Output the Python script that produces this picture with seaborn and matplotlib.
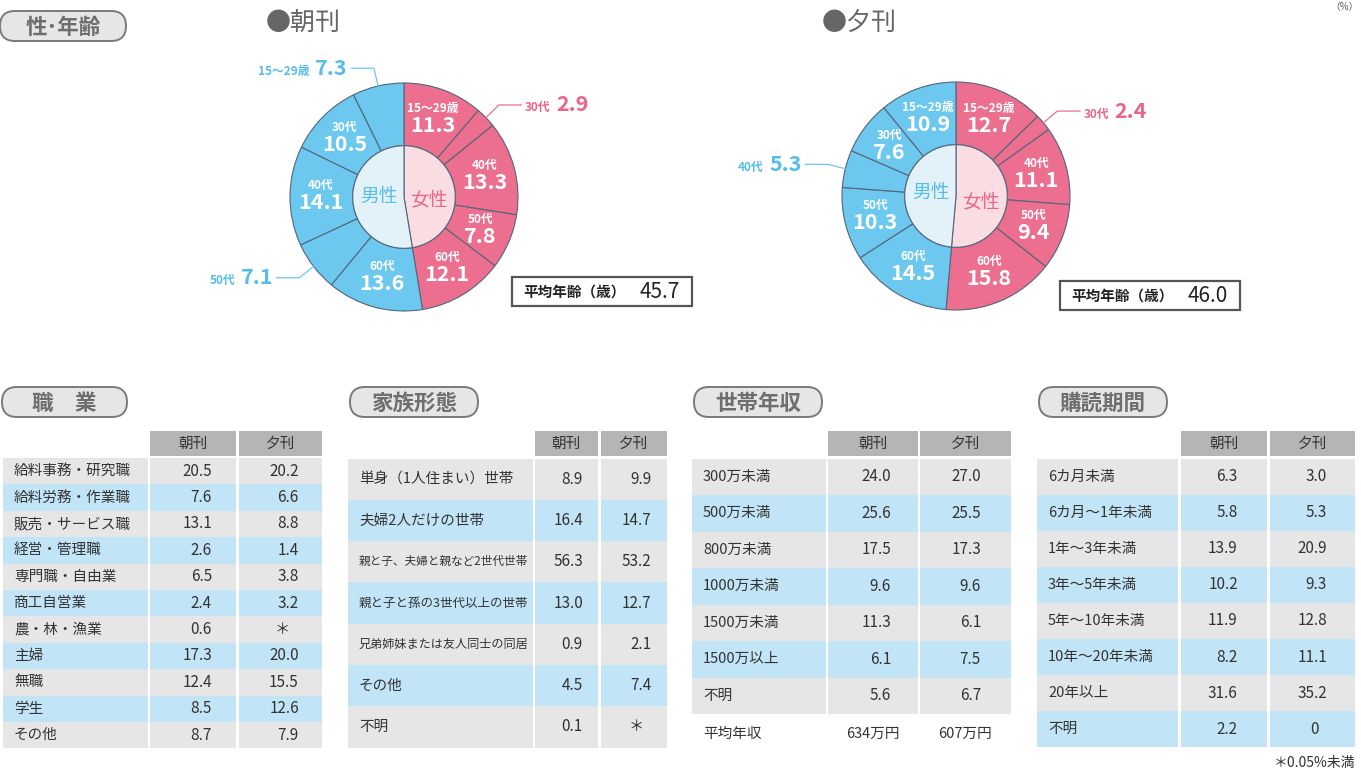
import numpy as np
import matplotlib
matplotlib.use("Agg")
import matplotlib.pyplot as plt
import seaborn as sns
from matplotlib.patches import FancyBboxPatch, Rectangle
from matplotlib.offsetbox import TextArea, HPacker, VPacker, AnnotationBbox

sns.set_theme(style="white")
plt.rcParams['font.family'] = ['Noto Sans CJK JP', 'DejaVu Sans']

# ---- data ----
age_groups = ["15～29歳", "30代", "40代", "50代", "60代"]
morning_female = [11.3, 2.9, 13.3, 7.8, 12.1]
morning_male = [7.3, 10.5, 14.1, 7.1, 13.6]
evening_female = [12.7, 2.4, 11.1, 9.4, 15.8]
evening_male = [10.9, 7.6, 5.3, 10.3, 14.5]
morning_avg_age = 45.7
evening_avg_age = 46.0

job_labels = ["給料事務・研究職", "給料労務・作業職", "販売・サービス職", "経営・管理職",
              "専門職・自由業", "商工自営業", "農・林・漁業", "主婦", "無職", "学生", "その他"]
job_morning = [20.5, 7.6, 13.1, 2.6, 6.5, 2.4, 0.6, 17.3, 12.4, 8.5, 8.7]
job_evening = [20.2, 6.6, 8.8, 1.4, 3.8, 3.2, None, 20.0, 15.5, 12.6, 7.9]

family_labels = ["単身（1人住まい）世帯", "夫婦2人だけの世帯", "親と子、夫婦と親など2世代世帯",
                 "親と子と孫の3世代以上の世帯", "兄弟姉妹または友人同士の同居", "その他", "不明"]
family_morning = [8.9, 16.4, 56.3, 13.0, 0.9, 4.5, 0.1]
family_evening = [9.9, 14.7, 53.2, 12.7, 2.1, 7.4, None]

income_labels = ["300万未満", "500万未満", "800万未満", "1000万未満", "1500万未満", "1500万以上", "不明"]
income_morning = [24.0, 25.6, 17.5, 9.6, 11.3, 6.1, 5.6]
income_evening = [27.0, 25.5, 17.3, 9.6, 6.1, 7.5, 6.7]
income_avg = [634, 607]

period_labels = ["6カ月未満", "6カ月～1年未満", "1年～3年未満", "3年～5年未満",
                 "5年～10年未満", "10年～20年未満", "20年以上", "不明"]
period_morning = [6.3, 5.8, 13.9, 10.2, 11.9, 8.2, 31.6, 2.2]
period_evening = [3.0, 5.3, 20.9, 9.3, 12.8, 11.1, 35.2, 0]

# ---- style ----
PINK = '#ec6f8f'
BLUE = '#6cc8ef'
PINK_TXT = '#e9658a'
BLUE_TXT = '#56bde9'
PINK_IN = '#fadce3'
BLUE_IN = '#e3f2f9'
EDGE = '#55657a'
GRAY_ROW = '#e6e6e6'
BLUE_ROW = '#c2e4f7'
HEAD = '#b5b5b5'
TXT = '#333333'

W, H = 1361, 780
fig = plt.figure(figsize=(W / 100, H / 100), dpi=100)
fig.patch.set_facecolor('white')
ax0 = fig.add_axes([0, 0, 1, 1])
ax0.set_xlim(0, W)
ax0.set_ylim(H, 0)
ax0.axis('off')
renderer = fig.canvas.get_renderer()


def pill(x0, x1, y0, y1, text):
    p = FancyBboxPatch((x0, y0), x1 - x0, y1 - y0,
                       boxstyle="round,pad=0,rounding_size=15",
                       fc='#e6e6e6', ec='#7a7a7a', lw=1.4)
    ax0.add_patch(p)
    ax0.text((x0 + x1) / 2, (y0 + y1) / 2 + 1, text, ha='center', va='center',
             fontsize=15.5, fontweight='bold', color='#6e6e6e')


def donut(cx, cy, female, male, title, title_x, avg, box):
    R = 114
    k = 2.6
    ax = fig.add_axes([(cx - k * R) / W, (H - cy - k * R) / H, 2 * k * R / W, 2 * k * R / H])
    vals = female + male[::-1]
    cols = [PINK] * len(female) + [BLUE] * len(male)
    tcols = [PINK_TXT] * len(female) + [BLUE_TXT] * len(male)
    ages = age_groups + age_groups[::-1]
    ax.pie(vals, radius=1, startangle=90, counterclock=False, colors=cols,
           wedgeprops=dict(width=0.55, edgecolor=EDGE, linewidth=0.8))
    ax.pie([sum(female), sum(male)], radius=0.45, startangle=90, counterclock=False,
           colors=[PINK_IN, BLUE_IN], wedgeprops=dict(edgecolor=EDGE, linewidth=0.8))
    ax.set_xlim(-k, k)
    ax.set_ylim(-k, k)
    ax.set_aspect('equal')
    ax.axis('off')

    total = sum(vals)
    cum = 0
    for v, age, c, tc in zip(vals, ages, cols, tcols):
        mid = np.deg2rad(360 * (cum + v / 2) / total)
        cum += v
        ux, uy = np.sin(mid), np.cos(mid)
        if v >= 7.5:
            vb = VPacker(children=[
                TextArea(age, textprops=dict(color='white', fontsize=8.5, fontweight='bold')),
                TextArea(f"{v:.1f}", textprops=dict(color='white', fontsize=15.5, fontweight='bold'))],
                align='center', pad=0, sep=0)
            ax.add_artist(AnnotationBbox(vb, (0.73 * ux, 0.73 * uy), frameon=False,
                                         box_alignment=(0.5, 0.5), pad=0))
        else:
            ex, ey = 1.16 * ux, 1.16 * uy
            side = 1 if ux > 0 else -1
            end = ex + side * 0.2
            ax.plot([ux, ex, end], [uy, ey, ey], color=c, lw=0.9, clip_on=False)
            hb = HPacker(children=[
                TextArea(age, textprops=dict(color=tc, fontsize=8.5, fontweight='bold')),
                TextArea(f"{v:.1f}", textprops=dict(color=tc, fontsize=15.5, fontweight='bold'))],
                align='baseline', pad=0, sep=4)
            ax.add_artist(AnnotationBbox(hb, (end + side * 0.03, ey), frameon=False,
                                         box_alignment=(0 if side > 0 else 1, 0.5), pad=0))

    fm = np.deg2rad(180 * sum(female) / total)
    mm = np.deg2rad(360 * (sum(female) + sum(male) / 2) / total)
    ax.text(0.22 * np.sin(mm), 0.22 * np.cos(mm) + 0.02, "男性", ha='center', va='center',
            fontsize=13.5, color=BLUE_TXT)
    ax.text(0.22 * np.sin(fm), 0.22 * np.cos(fm) - 0.04, "女性", ha='center', va='center',
            fontsize=13.5, color=PINK_TXT)

    ax0.text(title_x, 23, title, ha='left', va='center', fontsize=18, color='#666666')
    x0, x1, y0, y1 = box
    ax0.add_patch(Rectangle((x0, y0), x1 - x0, y1 - y0, fc='white', ec='#555555', lw=1.6))
    ax0.text(x0 + 11, (y0 + y1) / 2, "平均年齢（歳）", ha='left', va='center',
             fontsize=10.5, fontweight='bold', color='#222222')
    ax0.text(x1 - 12, (y0 + y1) / 2, f"{avg:.1f}", ha='right', va='center',
             fontsize=15, color='#222222')


def fmt(v):
    if v is None:
        return "＊", False
    if v == 0:
        return "0", False
    return f"{v:.1f}", True


def table(cols, top, row_h, labels, morning, evening, fracs, label_maxw):
    # header
    for (c0, c1), name in zip(cols[1:], ["朝刊", "夕刊"]):
        ax0.barh([443.5], [c1 - c0], left=[c0], height=25, color=HEAD, linewidth=0)
        ax0.text((c0 + c1) / 2, 444, name, ha='center', va='center', fontsize=10.5, color=TXT)
    n = len(labels)
    centers = [top + row_h * (i + 0.5) for i in range(n)]
    colors = [GRAY_ROW if i % 2 == 0 else BLUE_ROW for i in range(n)]
    for c0, c1 in cols:
        ax0.barh(centers, [c1 - c0] * n, left=[c0] * n, height=row_h, color=colors, linewidth=0)
    for y, lab, m, e in zip(centers, labels, morning, evening):
        t = ax0.text(cols[0][0] + 11, y, lab, ha='left', va='center', fontsize=10.5, color=TXT)
        w = t.get_window_extent(renderer).width
        if w > label_maxw:
            t.set_fontsize(10.5 * label_maxw / w)
        for (c0, c1), v, fr in zip(cols[1:], [m, e], fracs):
            s, dec = fmt(v)
            if dec:
                ax0.text(c0 + fr * (c1 - c0), y, s, ha='right', va='center', fontsize=11, color=TXT)
            else:
                ax0.text((c0 + c1) / 2 + 2, y, s, ha='center', va='center', fontsize=11, color=TXT)
    return centers


# ---- top section ----
pill(0, 126, 11, 41, "性･年齢")
donut(404, 197, morning_female, morning_male, "●朝刊", 266, morning_avg_age, (512, 692, 277, 306))
donut(956, 196, evening_female, evening_male, "●夕刊", 822, evening_avg_age, (1060, 1240, 281, 310))
ax0.text(1359, 7, "（%）", ha='right', va='center', fontsize=7, color='#555555')

# ---- tables ----
pill(2, 127, 387, 417, "職　業")
pill(350, 478, 387, 417, "家族形態")
pill(694, 822, 387, 417, "世帯年収")
pill(1039, 1167, 387, 417, "購読期間")

table([(3, 148), (150, 236), (239, 322)], 458, 26.4, job_labels, job_morning, job_evening,
      (0.72, 0.72), 132)
table([(348, 533), (535, 598), (601, 667)], 458.5, 41.3, family_labels, family_morning,
      family_evening, (0.76, 0.76), 170)
table([(692, 826), (828, 918), (920, 1011)], 458.5, 36.5, income_labels, income_morning,
      income_evening, (0.70, 0.67), 120)
ax0.text(703, 734, "平均年収", ha='left', va='center', fontsize=10.5, color=TXT)
for (c0, c1), v in zip([(828, 918), (920, 1011)], income_avg):
    ax0.text((c0 + c1) / 2, 734, f"{v}万円", ha='center', va='center', fontsize=10.5, color=TXT)
table([(1037, 1178), (1181, 1267), (1270, 1355)], 458.5, 36.1, period_labels, period_morning,
      period_evening, (0.66, 0.67), 128)
ax0.text(1355, 763, "＊0.05%未満", ha='right', va='center', fontsize=10, color=TXT)

fig.savefig("out.png", dpi=100, facecolor='white')
